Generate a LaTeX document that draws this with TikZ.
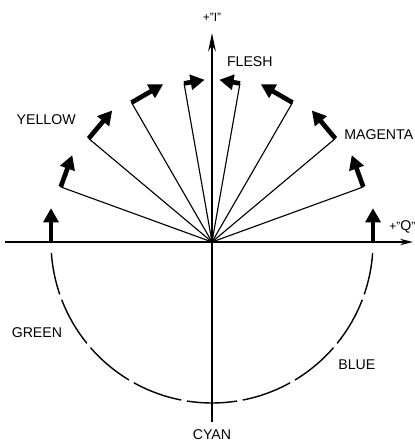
\documentclass[tikz,border=0pt]{standalone}
\usepackage{fontspec}
\setmainfont{Liberation Sans}
\usetikzlibrary{arrows.meta}

\begin{document}
\begin{tikzpicture}[line join=round,
  lbl/.style={font=\fontsize{10}{12}\selectfont, inner sep=0pt},
  axlbl/.style={font=\fontsize{8.5}{10}\selectfont, inner sep=0pt},
  hueline/.style={line width=0.8pt},
  corr/.style={line width=3.3pt, -{Triangle[length=10pt,width=10.5pt]}}]

\useasboundingbox (-5.267,-4.969) rectangle (5.043,6.012);

% Assi
\coordinate (O) at (0,0);
\coordinate (Itop) at (0,5.19);
\coordinate (Ibot) at (0,-4.47);
\coordinate (Qleft) at (-5.14,0);
\coordinate (Qright) at (4.99,0);
\draw[line width=1.1pt, -{Stealth[length=13pt,width=5.5pt]}] (Ibot) -- (Itop);
\draw[line width=1.1pt, -{Stealth[length=9pt,width=4.5pt]}] (Qleft) -- (Qright);

% Vettori di tinta
\foreach \a in {160,140,120,100,80,60,40,20} {
  \coordinate (P\a) at (\a:4);
  \draw[hueline] (O) -- (P\a);
}
\coordinate (P180) at (180:4);
\coordinate (P0) at (0:4);

% Correzioni verso la tinta carne
\foreach \a/\l in {180/0.84, 160/0.84, 140/0.91, 120/0.91, 100/0.52}
  \draw[corr] (P\a) -- ++(\a-90:\l) coordinate (T\a);
\foreach \a/\l in {0/0.84, 20/0.84, 40/0.91, 60/0.91, 80/0.52}
  \draw[corr] (P\a) -- ++(\a+90:\l) coordinate (T\a);

% Semicerchio tratteggiato
\foreach \s/\e in {184/199, 201/219, 221/239, 241/259, 261/279,
                   281/299, 301/319, 321/339, 341/356}
  \draw[line width=1pt] (\s:4) arc[start angle=\s, end angle=\e, radius=4];

% Etichette
\node[axlbl] (iaxis) at (0,5.59) {+"I"};
\node[axlbl, anchor=west] (qaxis) at (4.40,0.37)
  {+"{\fontsize{10}{12}\selectfont Q}"};
\node[lbl] (flesh) at (0.94,4.47) {FLESH};
\node[lbl] (yellow) at (-4.12,3.03) {YELLOW};
\node[lbl, anchor=west] (magenta) at (3.28,2.66) {MAGENTA};
\node[lbl] (green) at (-4.35,-2.26) {GREEN};
\node[lbl] (blue) at (3.60,-3.06) {BLUE};
\node[lbl] (cyan) at (0,-4.78) {CYAN};

\end{tikzpicture}
\end{document}
